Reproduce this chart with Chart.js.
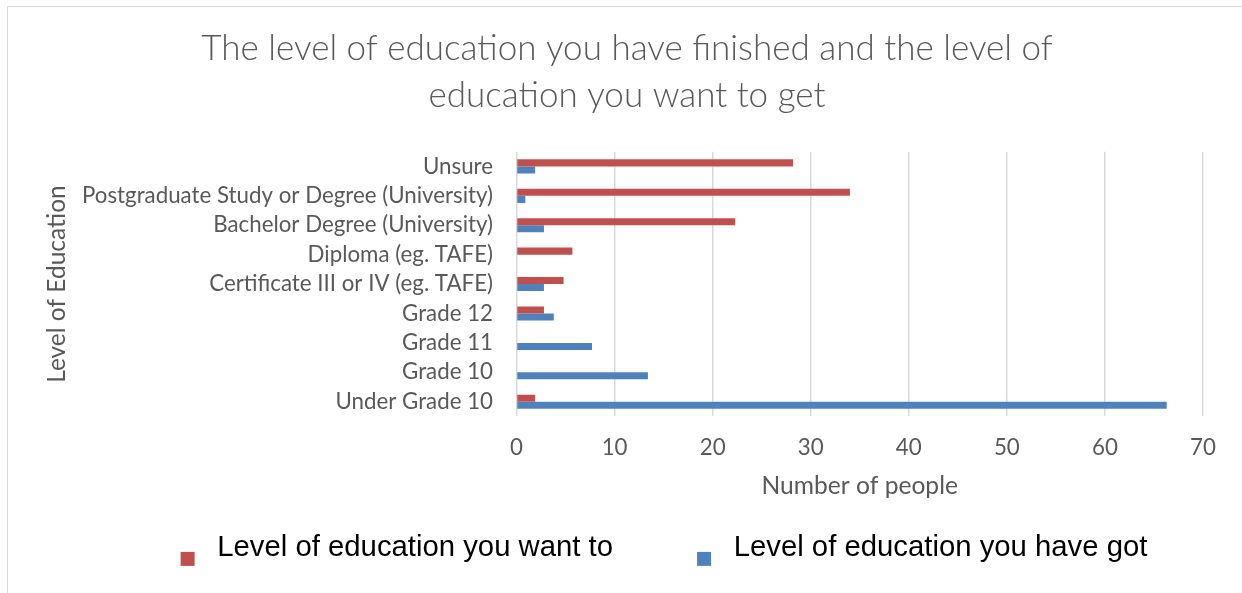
<!DOCTYPE html>
<html>
<head>
<meta charset="utf-8">
<script src="https://cdn.jsdelivr.net/npm/chart.js@4/dist/chart.umd.min.js"></script>
<style>
  html, body { margin: 0; padding: 0; background: #fff; }
  #wrap { position: relative; width: 1242px; height: 593px; }
  #frame { position: absolute; left: 7px; top: 6px; right: -10px; bottom: -10px; border-left: 1.5px solid #d9d9d9; border-top: 1.5px solid #d9d9d9; }
  #chart { position: absolute; left: 0; top: 0; }
</style>
</head>
<body>
<div id="wrap">
  <div id="frame"></div>
  <canvas id="chart" width="1242" height="593"></canvas>
</div>
<script>
// data (percent of people)
const levels = [
  'Unsure',
  'Postgraduate Study or Degree (University)',
  'Bachelor Degree (University)',
  'Diploma (eg. TAFE)',
  'Certificate III or IV (eg. TAFE)',
  'Grade 12',
  'Grade 11',
  'Grade 10',
  'Under Grade 10',
];
const wantTo = [28.2, 34.0, 22.3, 5.7, 4.8, 2.8, 0, 0, 1.9];
const haveGot = [1.9, 0.9, 2.8, 0, 2.8, 3.8, 7.7, 13.4, 66.3];
const xTicks = [0, 10, 20, 30, 40, 50, 60, 70];

const RED = '#C0504D';
const BLUE = '#4F81BD';
const GREY = '#595959';

// legend marker: small square sitting low, a bit left of the text
function legendMark(color) {
  const c = document.createElement('canvas');
  c.width = 96;
  c.height = 60;
  const g = c.getContext('2d');
  g.fillStyle = color;
  g.fillRect(74, 34, 14, 14);
  return c;
}

new Chart(document.getElementById('chart'), {
  type: 'bar',
  data: {
    labels: levels,
    datasets: [
      {
        label: 'Level of education you want to',
        data: wantTo,
        backgroundColor: RED,
        categoryPercentage: 0.48,
        barPercentage: 1.0,
      },
      {
        label: 'Level of education you have got',
        data: haveGot,
        backgroundColor: BLUE,
        categoryPercentage: 0.48,
        barPercentage: 1.0,
      },
    ],
  },
  options: {
    indexAxis: 'y',
    responsive: false,
    animation: false,
    layout: {
      padding: { left: 12, right: 0, top: 0, bottom: 20.5 },
    },
    plugins: {
      title: {
        display: true,
        text: ['The level of education you have finished and the level of', 'education you want to get'],
        color: GREY,
        font: { family: 'Lato', size: 35, weight: '300', lineHeight: 1.343 },
        padding: { top: 25.2, bottom: 32.5 },
      },
      legend: {
        position: 'bottom',
        labels: {
          usePointStyle: true,
          pointStyleWidth: 96,
          padding: 10,
          color: '#000',
          font: { family: '"Liberation Sans", Arial', size: 29.3 },
          generateLabels: (chart) => chart.data.datasets.map((ds, i) => ({
            text: ds.label,
            fillStyle: ds.backgroundColor,
            strokeStyle: ds.backgroundColor,
            lineWidth: 0,
            hidden: !chart.isDatasetVisible(i),
            datasetIndex: i,
            pointStyle: legendMark(ds.backgroundColor),
            fontColor: '#000',
          })),
        },
      },
      tooltip: { enabled: false },
    },
    scales: {
      x: {
        min: 0,
        max: 70,
        afterBuildTicks: (s) => { s.ticks = xTicks.map(v => ({ value: v })); },
        afterFit: (s) => { s.height = 106.8; s.paddingRight = 39; },
        ticks: {
          color: GREY,
          padding: 18,
          font: { family: 'Lato', size: 22.3 },
        },
        grid: {
          color: '#d9d9d9',
          lineWidth: 1.5,
          drawTicks: false,
        },
        border: { display: false },
        title: {
          display: true,
          text: 'Number of people',
          color: GREY,
          font: { family: 'Lato', size: 24.6 },
          padding: { top: 8, bottom: 22.2 },
        },
      },
      y: {
        afterFit: (s) => { s.width = 504.5; },
        ticks: {
          color: GREY,
          padding: 23.5,
          autoSkip: false,
          font: { family: 'Lato', size: 22.3 },
        },
        grid: { display: false, drawTicks: false },
        border: { display: false },
        title: {
          display: true,
          text: 'Level of Education',
          color: GREY,
          font: { family: 'Lato', size: 24.5 },
          padding: { top: 30.8, bottom: 8 },
        },
      },
    },
  },
});
</script>
</body>
</html>
